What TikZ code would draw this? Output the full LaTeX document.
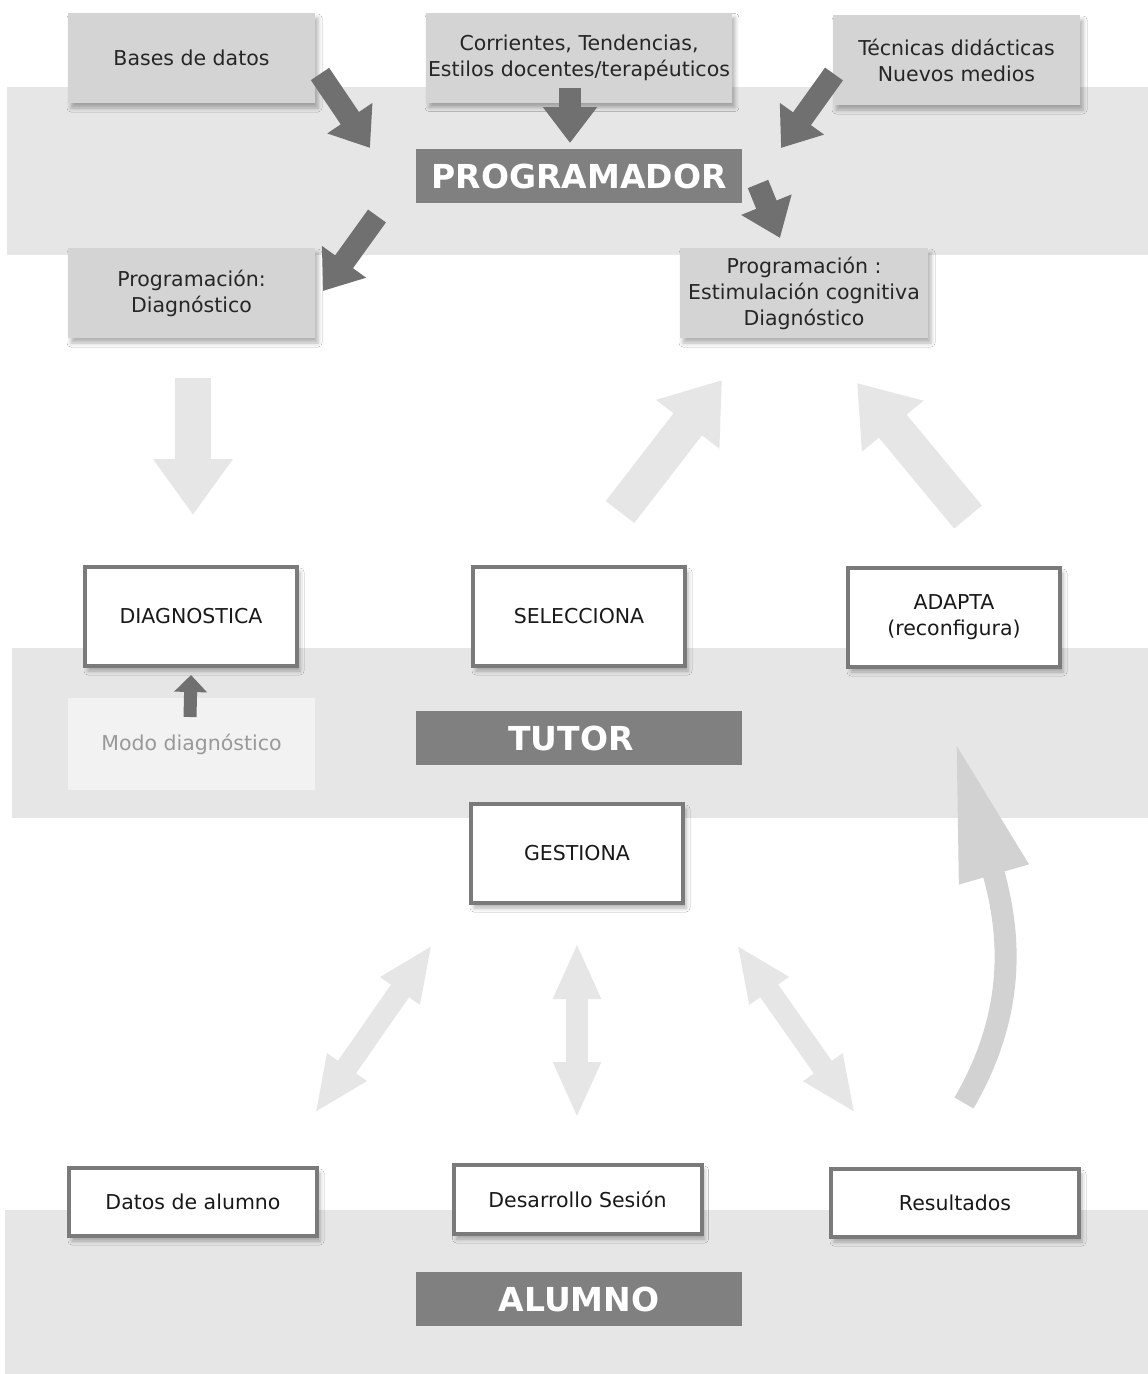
\documentclass[tikz,border=0pt]{standalone}
\usepackage{fontspec}
\setmainfont{DejaVu Sans}
\usepackage{tikz}
\usetikzlibrary{positioning,shadows,shadows.blur,arrows.meta}
\definecolor{bandgray}{HTML}{E6E6E6}
\definecolor{boxgray}{HTML}{D4D4D4}
\definecolor{titlegray}{HTML}{808080}
\definecolor{arrowdark}{HTML}{707070}
\definecolor{arrowlight}{HTML}{E6E6E6}
\definecolor{arrowcurve}{HTML}{D2D2D2}
\definecolor{framegray}{HTML}{7A7A7A}
\newcommand{\bodyfont}{\fontsize{20.5}{26}\selectfont}
\newcommand{\titlefont}{\fontsize{33}{36}\selectfont\bfseries}

\begin{document}
\begin{tikzpicture}[x=1pt,y=-1pt,
		band/.style={fill=bandgray, draw=none},
		softshadow/.style={blur shadow={shadow xshift=3pt, shadow yshift=-5pt, shadow blur radius=4pt, shadow opacity=30}},
		srcbox/.style={fill=boxgray, text=black!85, minimum width=247pt, minimum height=90pt, align=center, font=\bodyfont, inner sep=2pt, softshadow},
		titlebox/.style={fill=titlegray, text=white, minimum width=326pt, minimum height=54pt, font=\titlefont, inner sep=0pt},
		actbox/.style={fill=white, draw=framegray, line width=4pt, text=black!90, minimum width=212pt, minimum height=99pt, align=center, font=\bodyfont, softshadow},
		databox/.style={actbox, minimum width=248pt, minimum height=68pt},
		darkarrow/.style={arrowdark, line width=22pt, -{Triangle[width=52pt, length=36pt]}},
		lightarrow/.style={arrowlight, line width=36pt, -{Triangle[width=76pt, length=56pt]}},
		twoarrow/.style={arrowlight, line width=22pt, {Triangle[width=44pt, length=56pt]}-{Triangle[width=44pt, length=56pt]}}]
	\useasboundingbox (0,0) rectangle (1148,1374);
	\fill[white] (0,0) rectangle (1148,1374);
	% bands
	\fill[band] (7,87) rectangle (1148,255);
	\fill[band] (12,648) rectangle (1148,818);
	\fill[band] (5,1210) rectangle (1148,1374);

	% programador level
	\node[srcbox] (bases) at (191.5,58) {Bases de datos};
	\node[srcbox, minimum width=248pt] (corr) at (579,57.5) {Corrientes, Tendencias,\\Estilos docentes/terapéuticos};
	\node[srcbox] (tecn) at (956.5,60) {Técnicas didácticas\\Nuevos medios};
	\node[titlebox] (prog) at (579,176) {PROGRAMADOR};
	\node[srcbox] (pdiag) at (191.5,293) {Programación:\\Diagnóstico};
	\node[srcbox, minimum width=248pt] (pestim) at (804,293) {Programación :\\Estimulación cognitiva\\Diagnóstico};

	\coordinate (a1) at (320,74);   \coordinate (b1) at (370,148);
	\coordinate (a2) at (570,88);   \coordinate (b2) at (570,143);
	\coordinate (a3) at (834,74);   \coordinate (b3) at (781,148);
	\coordinate (a4) at (377,216);  \coordinate (b4) at (323,291);
	\coordinate (a5) at (758,184);  \coordinate (b5) at (780,238);
	\draw[darkarrow] (a1) -- (b1);
	\draw[darkarrow] (a2) -- (b2);
	\draw[darkarrow] (a3) -- (b3);
	\draw[darkarrow] (a4) -- (b4);
	\draw[darkarrow] (a5) -- (b5);

	% tutor level
	\node[actbox] (diagn) at (191,616.5) {DIAGNOSTICA};
	\node[actbox] (selec) at (579,616.5) {SELECCIONA};
	\node[actbox] (adapt) at (954,617.5) {ADAPTA\\(reconfigura)};
	\node[titlebox, text width=326pt, align=center] (tutor) at (579,738) {\hspace*{-16pt}TUTOR};
	\node[actbox] (gest) at (577,853.5) {GESTIONA};
	\node[fill=black!5, text=black!40, minimum width=247pt, minimum height=92pt, font=\bodyfont] (modo) at (191.5,744) {\raisebox{-4pt}{Modo diagnóstico}};
	\draw[arrowdark, line width=13pt, -{Triangle[width=32pt, length=17pt]}] (190,717) -- (diagn.south |- 0,675);

	\coordinate (a6) at (193,378);  \coordinate (b6) at (193,515);
	\coordinate (a7) at (620,512);  \coordinate (b7) at (722,380);
	\coordinate (a8) at (968,517);  \coordinate (b8) at (857,383);
	\draw[lightarrow] (a6) -- (b6);
	\draw[lightarrow] (a7) -- (b7);
	\draw[lightarrow] (a8) -- (b8);

	% alumno level
	\node[databox] (datos) at (193,1202) {Datos de alumno};
	\node[databox, minimum height=69pt] (sesion) at (577.5,1199.5) {Desarrollo Sesión};
	\node[databox] (result) at (955,1203) {Resultados};
	\node[titlebox] (alumno) at (579,1299) {ALUMNO};

	\coordinate (a9) at (315,1113);   \coordinate (b9) at (432,945);
	\coordinate (a10) at (577,1118);  \coordinate (b10) at (577,943);
	\coordinate (a11) at (855,1113);  \coordinate (b11) at (737,945);
	\draw[twoarrow] (a9) -- (b9);
	\draw[twoarrow] (a10) -- (b10);
	\draw[twoarrow] (a11) -- (b11);

	\coordinate (c1) at (964,1103);  \coordinate (c2) at (955,740);
	\draw[arrowcurve, line width=22pt, -{Triangle[width=66pt, length=140pt]}] (c1) .. controls (1018,1010) and (1010,930) .. (c2);
\end{tikzpicture}
\end{document}
